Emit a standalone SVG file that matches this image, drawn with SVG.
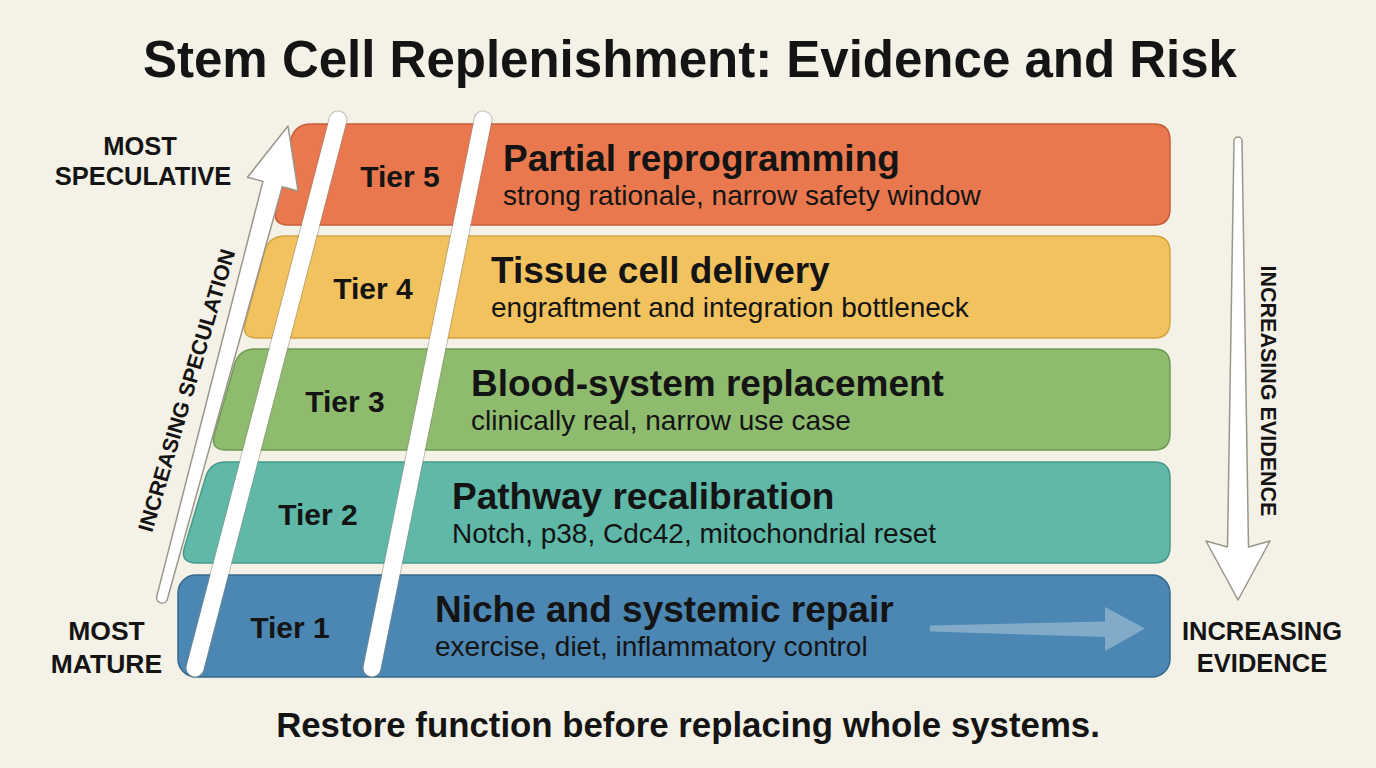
<svg xmlns="http://www.w3.org/2000/svg" width="1376" height="768" viewBox="0 0 1376 768">
<style>
text{font-family:"Liberation Sans",Arial,sans-serif;fill:#141414}
.title{font-size:51px;font-weight:700}
.foot{font-size:34.8px;font-weight:700}
.side{font-size:25.5px;font-weight:700}
.rot{font-size:21.5px;font-weight:700}
.tier{font-size:30px;font-weight:700;text-anchor:middle}
.h{font-size:37px;font-weight:700}
.s{font-size:28px;font-weight:400}
.band{stroke-width:1.5}
.hollow{fill:#ffffff;stroke:#9b968b;stroke-width:1.5;stroke-linejoin:round}
</style>
<rect width="1376" height="768" fill="#F4F1E6"/>
<text class="title" x="690" y="77" text-anchor="middle">Stem Cell Replenishment: Evidence and Risk</text>

<g id="tier5">
<path class="band" fill="#E9784E" stroke="#C55C3A" d="M 311 124 H 1154 Q 1170 124 1170 140 V 209 Q 1170 225 1154 225 H 288 Q 272 225 276.2 209.6 L 290.8 139.4 Q 295 124 311 124 Z"/>
<text class="tier" x="400" y="187">Tier 5</text>
<text class="h" x="503" y="171">Partial reprogramming</text>
<text class="s" x="503" y="205">strong rationale, narrow safety window</text>
</g>
<g id="tier4">
<path class="band" fill="#F2C25F" stroke="#D3A342" d="M 286 236 H 1154 Q 1170 236 1170 252 V 322 Q 1170 338 1154 338 H 257 Q 241 338 245.4 322.6 L 264.6 251.4 Q 269 236 285 236 Z"/>
<text class="tier" x="373" y="299">Tier 4</text>
<text class="h" x="491" y="283">Tissue cell delivery</text>
<text class="s" x="491" y="317">engraftment and integration bottleneck</text>
</g>
<g id="tier3">
<path class="band" fill="#8FBB6F" stroke="#6E9A55" d="M 255 349 H 1154 Q 1170 349 1170 365 V 434 Q 1170 450 1154 450 H 226 Q 210 450 214.4 434.6 L 234.6 364.4 Q 239 349 255 349 Z"/>
<text class="tier" x="345" y="412">Tier 3</text>
<text class="h" x="471" y="396">Blood-system replacement</text>
<text class="s" x="471" y="430">clinically real, narrow use case</text>
</g>
<g id="tier2">
<path class="band" fill="#5FB8A8" stroke="#46998A" d="M 226 462 H 1154 Q 1170 462 1170 478 V 547 Q 1170 563 1154 563 H 196 Q 180 563 184.4 547.6 L 205.6 477.4 Q 210 462 226 462 Z"/>
<text class="tier" x="318" y="525">Tier 2</text>
<text class="h" x="452" y="509">Pathway recalibration</text>
<text class="s" x="452" y="543">Notch, p38, Cdc42, mitochondrial reset</text>
</g>
<g id="tier1">
<rect class="band" x="178" y="575" width="992" height="102" rx="18" fill="#4B87B2" stroke="#35698F"/>
<text class="tier" x="290" y="638">Tier 1</text>
<text class="h" x="435" y="622">Niche and systemic repair</text>
<text class="s" x="435" y="656">exercise, diet, inflammatory control</text>
<path d="M 930 625.5 L 1105 621.5 L 1105 607 L 1145 628.5 L 1105 651 L 1105 637 L 930 631.5 Z" fill="#ffffff" fill-opacity="0.3"/>
</g>

<g id="connectors">
<g stroke-linecap="round" fill="none">
<line x1="195" y1="668" x2="338" y2="120" stroke="#8f8a80" stroke-width="19" stroke-opacity="0.5"/>
<line x1="195" y1="668" x2="338" y2="120" stroke="#ffffff" stroke-width="17"/>
<line x1="372" y1="668" x2="483" y2="120" stroke="#8f8a80" stroke-width="19" stroke-opacity="0.5"/>
<line x1="372" y1="668" x2="483" y2="120" stroke="#ffffff" stroke-width="17"/>
</g>
<path class="hollow" d="M 288 126 L 298 191 L 282.3 186.6 L 167.3 599.4 A 5.5 5.5 0 0 1 156.7 596.6 L 262.9 181.4 L 247.5 177.3 Z"/>
<path class="hollow" d="M 1234 141 A 4 4 0 0 1 1242 141 L 1248.5 547 L 1270 541 L 1238 600 L 1206 541 L 1227.5 547 Z"/>
</g>

<text class="side" x="140" y="155" text-anchor="middle">MOST</text>
<text class="side" x="143" y="185" text-anchor="middle">SPECULATIVE</text>
<text class="side" x="106.5" y="640" text-anchor="middle" style="font-size:26.5px">MOST</text>
<text class="side" x="106.5" y="673" text-anchor="middle" style="font-size:26.5px">MATURE</text>
<text class="side" x="1262" y="640" text-anchor="middle">INCREASING</text>
<text class="side" x="1262" y="672" text-anchor="middle">EVIDENCE</text>
<text class="rot" transform="translate(186.5 390.5) rotate(-73.5)" x="0" y="7.5" text-anchor="middle">INCREASING SPECULATION</text>
<text class="rot" transform="translate(1268.5 391) rotate(90)" x="0" y="7.5" text-anchor="middle">INCREASING EVIDENCE</text>

<text class="foot" x="688" y="737" text-anchor="middle">Restore function before replacing whole systems.</text>
</svg>
